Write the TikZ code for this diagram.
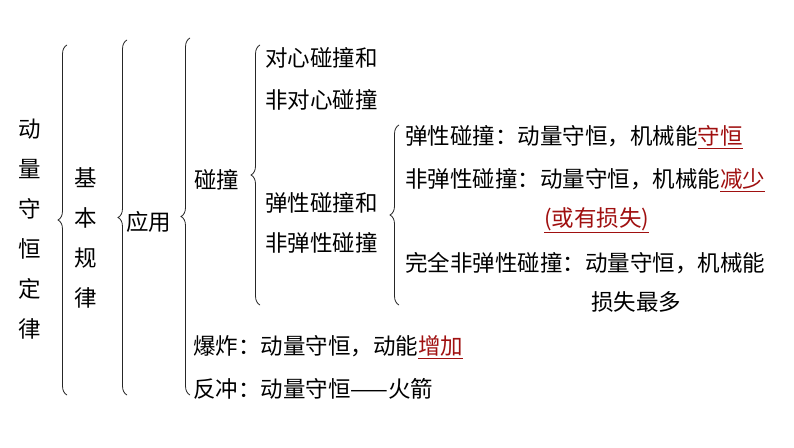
\documentclass[tikz,border=0pt]{standalone}
\usepackage{fontspec}
\setmainfont{Noto Sans CJK SC}
\usetikzlibrary{decorations.pathreplacing}
\definecolor{hl}{HTML}{A01010}
\newcommand{\hlt}[1]{\textcolor{hl}{\underline{#1}}}
\tikzset{
  t/.style={anchor=west,inner sep=0pt,font=\fontsize{22.5}{24}\selectfont},
  vt/.style={anchor=center,inner sep=0pt,font=\fontsize{22.5}{24}\selectfont,align=center},
  br/.style={draw=black!85,line width=0.8pt,decorate,decoration={brace,amplitude=9pt}}
}
\begin{document}
\begin{tikzpicture}[x=1pt,y=-1pt]
\useasboundingbox[fill=white] (0,0) rectangle (794,447);
\node[vt] (a) at (30,229) {动\\[16pt]量\\[16pt]守\\[16pt]恒\\[16pt]定\\[16pt]律};
\coordinate (b1t) at (67,45); \coordinate (b1b) at (67,395);
\draw[br] (b1b) -- (b1t);
\node[vt] (b) at (86,238) {基\\[16pt]本\\[16pt]规\\[16pt]律};
\coordinate (b2t) at (127,40); \coordinate (b2b) at (127,395);
\draw[br] (b2b) -- (b2t);
\node[t] (c) at (126,222) {应用};
\coordinate (b3t) at (190,38); \coordinate (b3b) at (190,395);
\draw[br] (b3b) -- (b3t);
\node[t] (d) at (194,180) {碰撞};
\coordinate (b4t) at (260,45); \coordinate (b4b) at (260,305);
\draw[br] (b4b) -- (b4t);
\node[t] (e1) at (265,58) {对心碰撞和};
\node[t] (e2) at (265,100) {非对心碰撞};
\node[t] (f1) at (265,203) {弹性碰撞和};
\node[t] (f2) at (265,243) {非弹性碰撞};
\coordinate (b5t) at (399,125); \coordinate (b5b) at (399,305);
\draw[br] (b5b) -- (b5t);
\node[t] (g1) at (405,137) {弹性碰撞：动量守恒，机械能\hlt{守恒}};
\node[t] (g2) at (405,180) {非弹性碰撞：动量守恒，机械能\hlt{减少}};
\node[t] (g3) at (544,220) {\hlt{(或有损失)}};
\node[t] (g4) at (405,263) {完全非弹性碰撞：动量守恒，机械能};
\node[t] (g5) at (591,302) {损失最多};
\node[t] (h) at (193,347) {爆炸：动量守恒，动能\hlt{增加}};
\node[t] (i) at (193,389) {反冲：动量守恒——火箭};
\end{tikzpicture}
\end{document}
